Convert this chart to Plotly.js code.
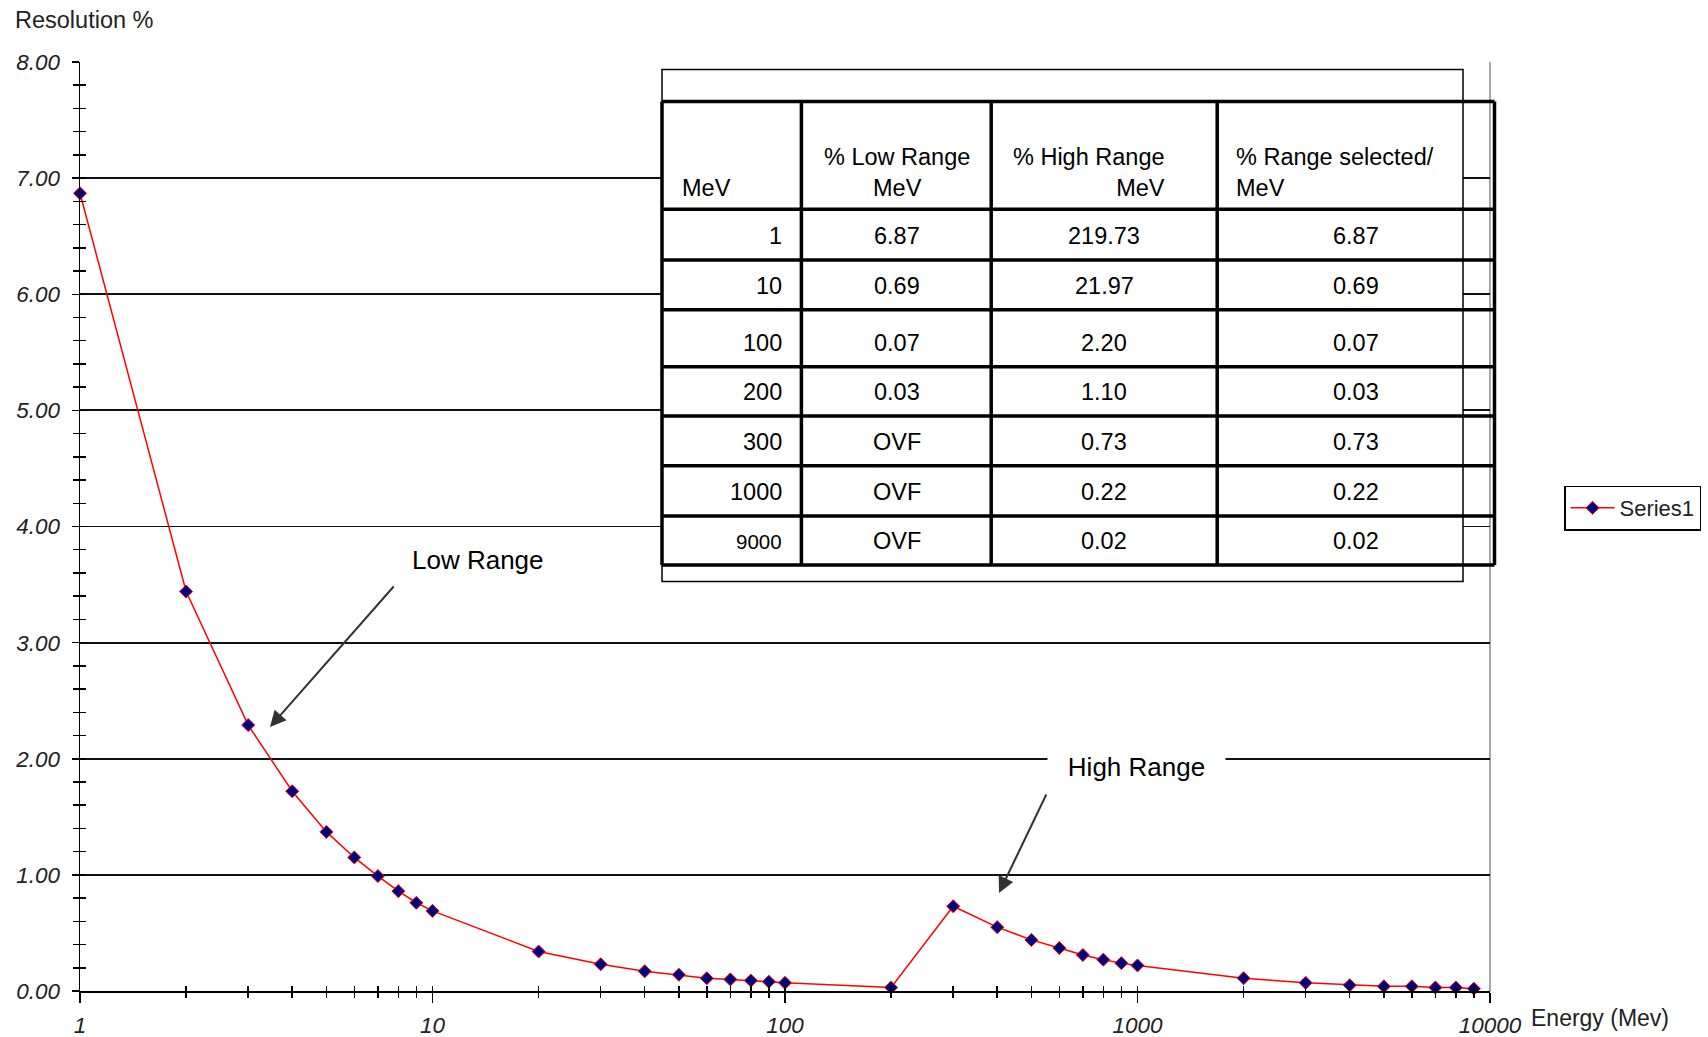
<!DOCTYPE html>
<html>
<head>
<meta charset="utf-8">
<script src="https://cdn.plot.ly/plotly-3.0.1.min.js"></script>
<style>
  html, body { margin: 0; padding: 0; background: #fff; }
  #chart { width: 1708px; height: 1037px; }
</style>
</head>
<body>
<div id="chart"></div>
<script>
// ---------------- data ----------------
const energy = [1, 2, 3, 4, 5, 6, 7, 8, 9, 10,
                20, 30, 40, 50, 60, 70, 80, 90, 100,
                200, 300, 400, 500, 600, 700, 800, 900, 1000,
                2000, 3000, 4000, 5000, 6000, 7000, 8000, 9000];
const resolution = [6.87, 3.44, 2.29, 1.72, 1.37, 1.15, 0.99, 0.86, 0.76, 0.69,
                    0.34, 0.23, 0.17, 0.14, 0.11, 0.10, 0.09, 0.08, 0.07,
                    0.03, 0.73, 0.55, 0.44, 0.37, 0.31, 0.27, 0.24, 0.22,
                    0.11, 0.07, 0.05, 0.04, 0.04, 0.03, 0.03, 0.02];
const seriesName = 'Series1';

const xTickVals = [1, 10, 100, 1000, 10000];
const xTickText = ['1', '10', '100', '1000', '10000'];

const tableHeaders = ['MeV', '% Low Range<br>MeV', '% High Range<br>MeV', '% Range selected/<br>MeV'];
const tableMeV = ['1', '10', '100', '200', '300', '1000', '9000'];
const tableLow = ['6.87', '0.69', '0.07', '0.03', 'OVF', 'OVF', 'OVF'];
const tableHigh = ['219.73', '21.97', '2.20', '1.10', '0.73', '0.22', '0.02'];
const tableSelected = ['6.87', '0.69', '0.07', '0.03', '0.73', '0.22', '0.02'];

// ---------------- layout geometry (pixels) ----------------
const FW = 1708, FH = 1037;
const L = 80, R = 1490, T = 62, B = 991;
const px = x => (x - L) / (R - L);
const py = y => (B - y) / (B - T);

const FONT = 'Liberation Sans, Arial, sans-serif';

// table geometry
const tblOuter = {x0: 662, y0: 69.5, x1: 1463, y1: 581.4};
const colEdges = [662, 801.4, 991.2, 1217.2, 1494.5];
const rowEdges = [101.4, 209.2, 260, 309.8, 366.8, 416, 465.8, 515.9, 565.1];
const colAnchor = [
  {x: 784, xanchor: 'right', align: 'right'},
  {x: 897, xanchor: 'center', align: 'center'},
  {x: 1104, xanchor: 'center', align: 'center'},
  {x: 1356, xanchor: 'center', align: 'center'}
];
const headAnchor = [
  {x: 680, xanchor: 'left', align: 'left'},
  {x: 897, xanchor: 'center', align: 'center'},
  {x: 1167, xanchor: 'right', align: 'right'},
  {x: 1234, xanchor: 'left', align: 'left'}
];

const shapes = [];
const annotations = [];

// plot area right border (grey)
shapes.push({type: 'line', xref: 'paper', yref: 'paper', x0: 1, x1: 1, y0: 0, y1: 1,
             line: {color: '#8a8a8a', width: 1.5}, layer: 'below'});

// table outer white frame
shapes.push({type: 'rect', xref: 'paper', yref: 'paper',
             x0: px(tblOuter.x0), x1: px(tblOuter.x1), y0: py(tblOuter.y0), y1: py(tblOuter.y1),
             line: {color: '#000', width: 1.5}, fillcolor: '#fff', layer: 'above'});
// thick table lines
rowEdges.forEach(y => shapes.push({type: 'line', xref: 'paper', yref: 'paper',
  x0: px(colEdges[0]), x1: px(colEdges[colEdges.length - 1]), y0: py(y), y1: py(y),
  line: {color: '#000', width: 3.5}, layer: 'above'}));
colEdges.forEach(x => shapes.push({type: 'line', xref: 'paper', yref: 'paper',
  x0: px(x), x1: px(x), y0: py(rowEdges[0]), y1: py(rowEdges[rowEdges.length - 1]),
  line: {color: '#000', width: 3.5}, layer: 'above'}));

// table header text
tableHeaders.forEach((h, i) => annotations.push({
  xref: 'paper', yref: 'paper', x: px(headAnchor[i].x), y: py(203),
  xanchor: headAnchor[i].xanchor, yanchor: 'bottom', align: headAnchor[i].align,
  text: h, showarrow: false, font: {family: FONT, size: 23.5, color: '#000'}
}));
// table body text
const tableCols = [tableMeV, tableLow, tableHigh, tableSelected];
tableCols.forEach((col, c) => col.forEach((v, r) => annotations.push({
  xref: 'paper', yref: 'paper', x: px(colAnchor[c].x), y: py(rowEdges[r + 2] - 24),
  xanchor: colAnchor[c].xanchor, yanchor: 'middle', align: colAnchor[c].align,
  text: v, showarrow: false,
  font: {family: FONT, size: (c === 0 && r === col.length - 1) ? 20.5 : 23.5, color: '#000'}
})));

// axis titles
annotations.push({xref: 'paper', yref: 'paper', x: px(13), y: py(20), xanchor: 'left', yanchor: 'middle',
  text: 'Resolution %', showarrow: false, font: {family: FONT, size: 23.5, color: '#222'}});
annotations.push({xref: 'paper', yref: 'paper', x: px(1529), y: py(1018), xanchor: 'left', yanchor: 'middle',
  text: 'Energy (Mev)', showarrow: false, font: {family: FONT, size: 23, color: '#222'}});

// range labels
annotations.push({xref: 'paper', yref: 'paper', x: px(477.5), y: py(560), xanchor: 'center', yanchor: 'middle',
  text: 'Low Range', showarrow: false, font: {family: FONT, size: 26, color: '#000'}});
annotations.push({xref: 'paper', yref: 'paper', x: px(1136), y: py(767), xanchor: 'center', yanchor: 'middle',
  text: 'High Range', showarrow: false, bgcolor: '#fff', width: 175,
  font: {family: FONT, size: 26, color: '#000'}});

// arrows
annotations.push({xref: 'paper', yref: 'paper', x: px(270), y: py(727), ax: 125, ay: -142,
  text: '', showarrow: true, arrowhead: 2, arrowsize: 1.6, arrowwidth: 2, arrowcolor: '#333', standoff: 0});
annotations.push({xref: 'paper', yref: 'paper', x: px(999), y: py(893), ax: 48, ay: -100,
  text: '', showarrow: true, arrowhead: 2, arrowsize: 1.6, arrowwidth: 2, arrowcolor: '#333', standoff: 0});

// ---------------- traces ----------------
const traces = [
  {
    type: 'scatter', mode: 'lines+markers', name: seriesName,
    x: energy, y: resolution,
    line: {color: '#ff0000', width: 1.5},
    marker: {symbol: 'diamond', size: 10, color: '#000080', line: {color: '#ff0000', width: 1}},
    cliponaxis: false
  },
  { // carrier for the overlay axes that draw the inward half of the crossing ticks
    type: 'scatter', mode: 'markers', x: [], y: [], xaxis: 'x2', yaxis: 'y2',
    showlegend: false, hoverinfo: 'skip'
  }
];

const tickFont = {family: FONT, size: 22.5, color: '#222', style: 'italic'};

const layout = {
  width: FW, height: FH,
  margin: {l: L, r: FW - R, t: T, b: FH - B, pad: 0, autoexpand: false},
  paper_bgcolor: '#fff', plot_bgcolor: '#fff',
  showlegend: true,
  font: {family: FONT, color: '#222'},
  xaxis: {
    type: 'log', range: [0, 4], fixedrange: true, automargin: false,
    tickmode: 'array', tickvals: xTickVals, ticktext: xTickText,
    showgrid: false, zeroline: false,
    showline: true, linecolor: '#000', linewidth: 1.5,
    ticks: 'outside', ticklen: 10, tickwidth: 1.5, tickcolor: '#000',
    ticklabelstandoff: 3,
    tickfont: tickFont,
    minor: {dtick: 'D1', ticks: 'outside', ticklen: 5, tickwidth: 1.5, tickcolor: '#000', showgrid: false}
  },
  yaxis: {
    range: [0, 8], fixedrange: true, automargin: false,
    dtick: 1, tickformat: '.2f',
    showgrid: true, gridcolor: '#111', gridwidth: 1.8,
    zeroline: false,
    showline: true, linecolor: '#000', linewidth: 1.5,
    ticks: 'outside', ticklen: 7, tickwidth: 1.5, tickcolor: '#000',
    ticklabelstandoff: 7,
    tickfont: tickFont,
    minor: {dtick: 0.2, ticks: 'outside', ticklen: 6, tickwidth: 1.5, tickcolor: '#000', showgrid: false}
  },
  xaxis2: {
    type: 'log', range: [0, 4], overlaying: 'x', anchor: 'y2', side: 'bottom', fixedrange: true,
    dtick: 'D1', ticks: 'inside', ticklen: 5, tickwidth: 1.5, tickcolor: '#000',
    showticklabels: false, showgrid: false, zeroline: false, showline: false
  },
  yaxis2: {
    range: [0, 8], overlaying: 'y', anchor: 'x2', side: 'left', fixedrange: true,
    dtick: 0.2, ticks: 'inside', ticklen: 6, tickwidth: 1.5, tickcolor: '#000',
    showticklabels: false, showgrid: false, zeroline: false, showline: false
  },
  legend: {
    x: px(1564), xanchor: 'left', y: py(508), yanchor: 'middle',
    bgcolor: '#fff', bordercolor: '#000', borderwidth: 1.5,
    font: {family: FONT, size: 22, color: '#222'},
    itemwidth: 44, tracegroupgap: 0
  },
  shapes: shapes,
  annotations: annotations
};

Plotly.newPlot('chart', traces, layout, {displayModeBar: false, staticPlot: true});
</script>
</body>
</html>
